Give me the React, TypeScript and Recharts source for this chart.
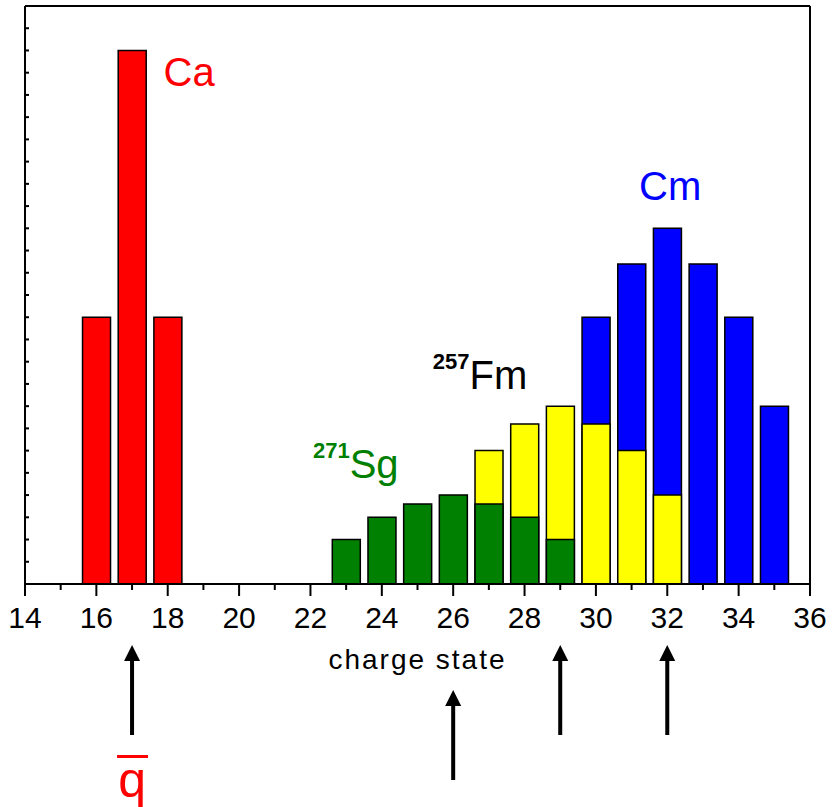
import { ComposedChart, Bar, XAxis, YAxis, ReferenceLine, ReferenceDot } from 'recharts'

// charge-state distributions (arbitrary units, one unit = one minor y tick)
const caCharges = [16, 17, 18]
const caValues = [12, 24, 12]
const cmCharges = [30, 31, 32, 33, 34, 35]
const cmValues = [12, 14.4, 16, 14.4, 12, 8]
const fmCharges = [27, 28, 29, 30, 31, 32]
const fmValues = [6, 7.2, 8, 7.2, 6, 4]
const sgCharges = [23, 24, 25, 26, 27, 28, 29]
const sgValues = [2, 3, 3.6, 4, 3.6, 3, 2]

const xTicks = [14, 15, 16, 17, 18, 19, 20, 21, 22, 23, 24, 25, 26, 27, 28, 29, 30, 31, 32, 33, 34, 35, 36]
const yTicks = [0, 1, 2, 3, 4, 5, 6, 7, 8, 9, 10, 11, 12, 13, 14, 15, 16, 17, 18, 19, 20, 21, 22, 23, 24, 25, 26]

// mean charge arrows below the axis
const arrowCharges = [17, 26, 29, 32]

const FONT = '"Liberation Sans", Arial, Helvetica, sans-serif'

const allCharges = Array.from(new Set([...caCharges, ...sgCharges, ...fmCharges, ...cmCharges])).sort((a, b) => a - b)
const data = allCharges.map((c) => ({
  charge: c,
  ca: caCharges.includes(c) ? caValues[caCharges.indexOf(c)] : null,
  cm: cmCharges.includes(c) ? cmValues[cmCharges.indexOf(c)] : null,
  fm: fmCharges.includes(c) ? fmValues[fmCharges.indexOf(c)] : null,
  sg: sgCharges.includes(c) ? sgValues[sgCharges.indexOf(c)] : null,
}))

function XTick(props: any) {
  const { x, y, payload } = props
  const axisY = y - 16
  const major = payload.value % 2 === 0
  return (
    <g>
      <line x1={x} x2={x} y1={axisY} y2={axisY + (major ? 12 : 6)} stroke="#000" strokeWidth={2} />
      {major && (
        <text x={x} y={y + 28} textAnchor="middle" fontSize={30} fontFamily={FONT} fill="#000">
          {payload.value}
        </text>
      )}
    </g>
  )
}

function YTick(props: any) {
  const { x, y } = props
  return <line x1={x} x2={x + 4} y1={y} y2={y} stroke="#000" strokeWidth={2} />
}

function Arrow(props: any) {
  const { x1, y1, y2, charge } = props
  const base = Math.max(y1, y2)
  const low = charge === 26
  const tip = base + (low ? 106 : 61)
  const end = base + (low ? 196 : 151)
  return (
    <g>
      <polygon points={`${x1},${tip} ${x1 - 8},${tip + 16} ${x1 + 8},${tip + 16}`} fill="#000" />
      <rect x={x1 - 2} y={tip + 14} width={4} height={end - tip - 14} fill="#000" />
      {charge === 17 && (
        <g>
          <rect x={x1 - 15} y={base + 171} width={31} height={3} fill="#f00" />
          <text x={x1} y={base + 213} textAnchor="middle" fontSize={50} fontFamily={FONT} fill="#f00">
            q
          </text>
        </g>
      )}
    </g>
  )
}

function Tag(props: any) {
  const { cx, cy, text, sup, color, anchor } = props
  return (
    <text x={cx} y={cy} textAnchor={anchor} fontFamily={FONT} fill={color} fontSize={40}>
      {sup && (
        <tspan fontSize={22} fontWeight="bold" dy={-20}>
          {sup}
        </tspan>
      )}
      <tspan dy={sup ? 20 : 0}>{text}</tspan>
    </text>
  )
}

export default function App() {
  return (
    <div style={{ position: 'absolute', left: 0, top: 0 }}>
      <ComposedChart width={832} height={807} data={data} margin={{ top: 6, right: 22, left: 0, bottom: 0 }}>
        <XAxis
          dataKey="charge"
          type="number"
          domain={[14, 36]}
          ticks={xTicks}
          interval={0}
          height={223}
          tickSize={12}
          tickMargin={4}
          tickLine={false}
          tick={<XTick />}
          axisLine={{ stroke: '#000', strokeWidth: 2 }}
          label={{
            content: (p: any) => (
              <text
                x={p.viewBox.x + p.viewBox.width / 2}
                y={p.viewBox.y + 85}
                textAnchor="middle"
                fontSize={28}
                letterSpacing={2}
                fontFamily={FONT}
                fill="#000"
              >
                charge state
              </text>
            ),
          }}
        />
        <XAxis xAxisId="ca" dataKey="charge" type="number" domain={[14, 36]} ticks={xTicks} hide />
        <XAxis xAxisId="cm" dataKey="charge" type="number" domain={[14, 36]} ticks={xTicks} hide />
        <XAxis xAxisId="fm" dataKey="charge" type="number" domain={[14, 36]} ticks={xTicks} hide />
        <XAxis xAxisId="sg" dataKey="charge" type="number" domain={[14, 36]} ticks={xTicks} hide />
        <YAxis
          type="number"
          domain={[0, 26]}
          ticks={yTicks}
          interval={0}
          width={25}
          tickSize={0}
          tickMargin={0}
          tickLine={false}
          tick={<YTick />}
          axisLine={{ stroke: '#000', strokeWidth: 2 }}
        />

        <Bar xAxisId="ca" dataKey="ca" barSize={28} fill="#ff0000" stroke="#000" strokeWidth={1.5} isAnimationActive={false} />
        <Bar xAxisId="cm" dataKey="cm" barSize={28} fill="#0000ff" stroke="#000" strokeWidth={1.5} isAnimationActive={false} />
        <Bar xAxisId="fm" dataKey="fm" barSize={28} fill="#ffff00" stroke="#000" strokeWidth={1.5} isAnimationActive={false} />
        <Bar xAxisId="sg" dataKey="sg" barSize={28} fill="#008000" stroke="#000" strokeWidth={1.5} isAnimationActive={false} />

        {/* frame: top and right edges */}
        <ReferenceLine y={26} stroke="#000" strokeWidth={2} />
        <ReferenceLine x={36} stroke="#000" strokeWidth={2} />

        <ReferenceDot x={18.6} y={22.4} r={0} ifOverflow="visible" shape={(p: any) => <Tag {...p} text="Ca" color="#f00" anchor="middle" />} />
        <ReferenceDot x={32.08} y={17.27} r={0} ifOverflow="visible" shape={(p: any) => <Tag {...p} text="Cm" color="#00f" anchor="middle" />} />
        <ReferenceDot x={25.43} y={8.77} r={0} ifOverflow="visible" shape={(p: any) => <Tag {...p} text="Fm" sup="257" color="#000" anchor="start" />} />
        <ReferenceDot x={22.07} y={4.77} r={0} ifOverflow="visible" shape={(p: any) => <Tag {...p} text="Sg" sup="271" color="#008000" anchor="start" />} />

        {arrowCharges.map((c) => (
          <ReferenceLine key={c} x={c} stroke="none" shape={(p: any) => <Arrow {...p} charge={c} />} />
        ))}
      </ComposedChart>
    </div>
  )
}
